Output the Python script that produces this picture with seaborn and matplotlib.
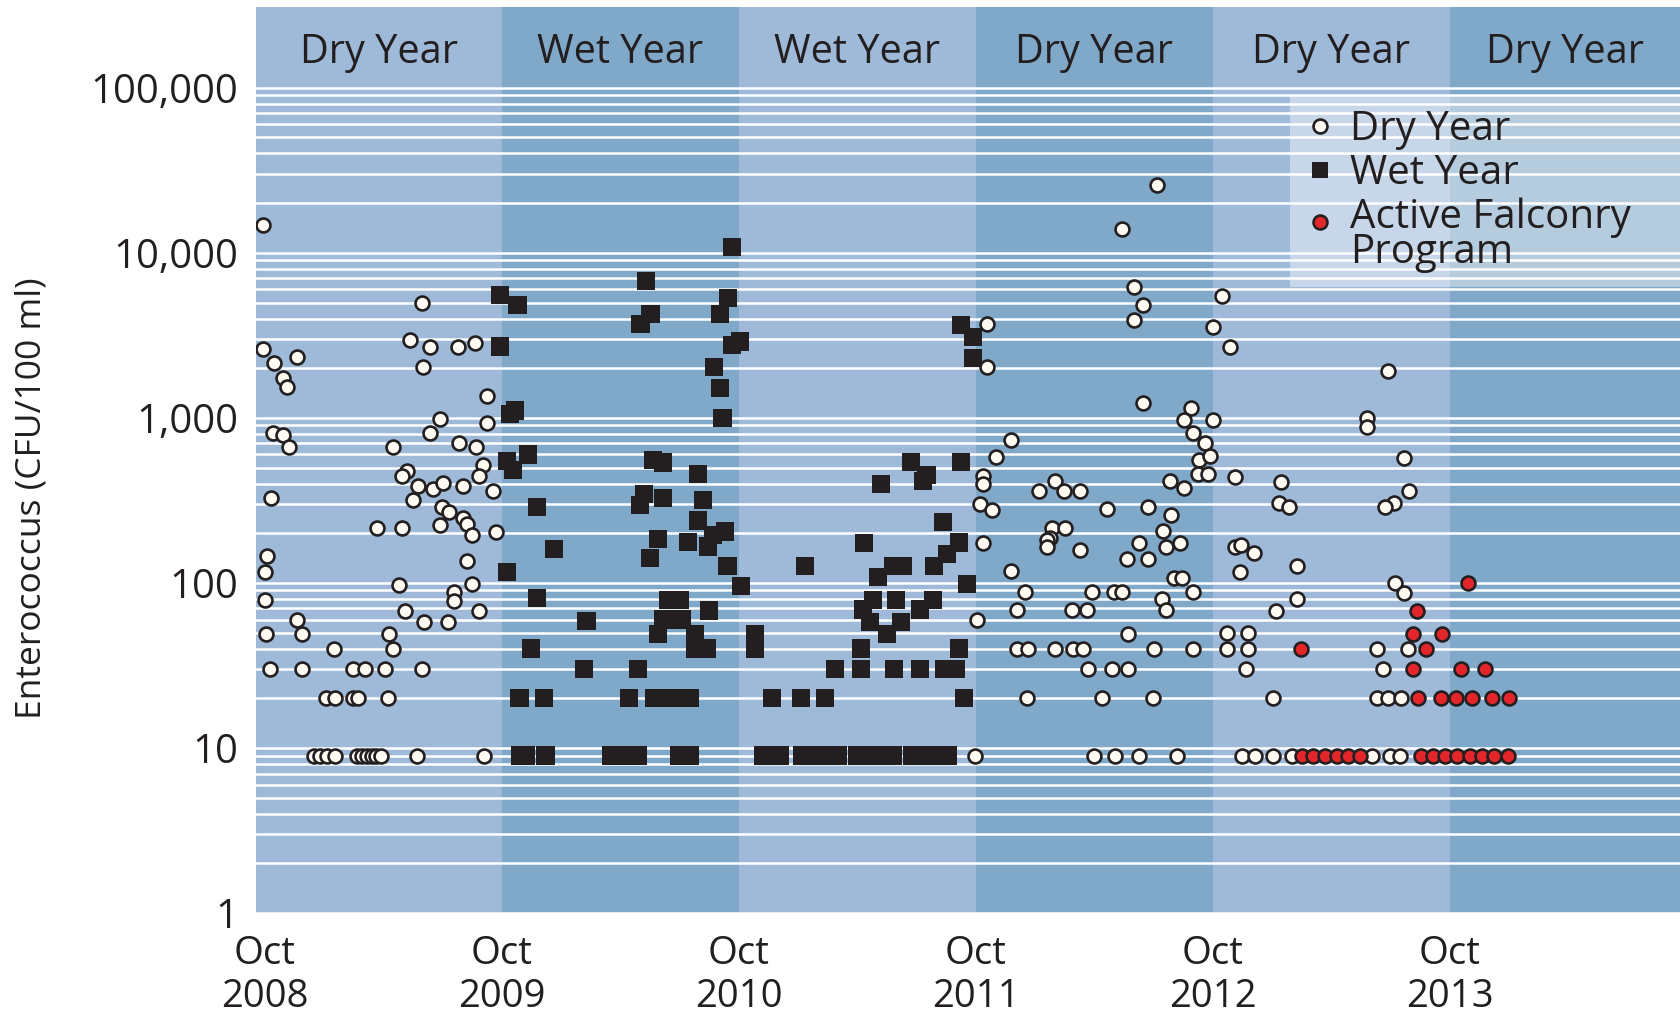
import matplotlib
matplotlib.use("Agg")
import numpy as np
import pandas as pd
import matplotlib.pyplot as plt
from matplotlib.lines import Line2D
from matplotlib.legend_handler import HandlerLine2D
from matplotlib.ticker import FixedLocator, FixedFormatter, NullFormatter
import seaborn as sns

# ---------------------------------------------------------------------------
# Enterococcus samples (CFU/100 ml), sampling dates as decimal years
# ---------------------------------------------------------------------------

# Dry-year samples (Oct 2008 - Sep 2009, Oct 2011 - Sep 2013)
dry_dates = [
    # 2008-09
    2008.742, 2009.413, 2008.742, 2008.888, 2008.791, 2008.829, 2008.843,
    2009.363, 2009.448, 2009.417, 2009.567, 2009.639, 2009.689, 2009.490,
    2009.689, 2009.448, 2008.787, 2008.829, 2008.854, 2009.293, 2009.571,
    2009.642, 2009.672, 2009.656, 2009.352, 2009.328, 2009.396, 2009.462,
    2009.501, 2009.588, 2009.712, 2008.776, 2009.377, 2009.497, 2009.529,
    2009.588, 2009.605, 2009.624, 2009.490, 2009.223, 2009.328, 2009.726,
    2008.759, 2008.752, 2009.602, 2009.318, 2009.624, 2008.752, 2009.549,
    2009.549, 2009.342, 2009.656, 2008.885, 2009.422, 2009.525, 2008.756,
    2008.906, 2009.276, 2009.043, 2009.290,
    2008.773, 2008.906, 2009.124, 2009.173, 2009.258, 2009.413,
    2009.009, 2009.047, 2009.124, 2009.145, 2009.272,
    2008.958, 2008.984, 2009.014, 2009.047, 2009.138, 2009.160, 2009.181,
    2009.202, 2009.220, 2009.240, 2009.394, 2009.677,
    # 2011-12
    2012.513, 2012.367, 2012.418, 2012.456, 2012.418, 2011.796, 2011.796,
    2012.456, 2012.657, 2012.629, 2012.667, 2012.716, 2011.898, 2011.834,
    2012.691, 2012.737, 2011.781, 2011.781, 2012.688, 2012.730, 2012.569,
    2012.629, 2012.084, 2012.017, 2012.123, 2012.189, 2011.767, 2011.817,
    2012.302, 2012.475, 2012.573, 2012.540, 2012.070, 2012.126, 2012.063,
    2012.049, 2012.049, 2011.781, 2012.189, 2012.438, 2012.550, 2012.611,
    2012.386, 2012.475, 2011.898, 2012.587, 2012.620, 2011.957, 2012.238,
    2012.334, 2012.365, 2012.667, 2012.534, 2011.922, 2012.154, 2012.217,
    2012.550, 2011.753, 2012.393,
    2011.922, 2011.971, 2012.084, 2012.161, 2012.203, 2012.502, 2012.667,
    2012.224, 2012.323, 2012.393,
    2011.964, 2012.283, 2012.498,
    2011.746, 2012.249, 2012.337, 2012.439, 2012.597,
    # 2012-13
    2012.787, 2012.751, 2012.822, 2013.489, 2012.751, 2013.401, 2013.401,
    2012.843, 2013.036, 2013.557, 2013.028, 2013.071, 2013.577, 2013.515,
    2013.475, 2012.843, 2012.868, 2012.924, 2012.864, 2013.104, 2013.520,
    2013.557, 2013.104, 2013.016,
    2012.808, 2012.899,
    2012.808, 2012.899, 2013.443, 2013.574,
    2012.888, 2013.468,
    2013.004, 2013.440, 2013.487, 2013.543,
    2012.874, 2012.927, 2013.004, 2013.085, 2013.421, 2013.497, 2013.537,
]
dry_cfu = [
    # 2008-09
    14700, 5000, 2600, 2330, 2140, 1740, 1540,
    2970, 2690, 2030, 2690, 2850, 1360, 985,
    930, 810, 810, 790, 665, 665, 700,
    665, 520, 447, 475, 447, 389, 373,
    403, 389, 362, 328, 316, 288, 269,
    249, 226, 194, 225, 215, 215, 204,
    146, 117, 136, 97, 98, 79, 88,
    78, 68, 68, 60, 58, 58, 49,
    49, 49, 40, 40,
    30, 30, 30, 30, 30, 30,
    20, 20, 20, 20, 20,
    9, 9, 9, 9, 9, 9, 9,
    9, 9, 9, 9, 9,
    # 2011-12
    25800, 13900, 6190, 4800, 3920, 3700, 2020,
    1230, 1140, 973, 813, 708, 735, 576,
    552, 590, 442, 397, 455, 455, 414,
    375, 414, 361, 361, 361, 300, 277,
    279, 288, 259, 207, 216, 214, 188,
    181, 165, 175, 159, 175, 165, 175,
    139, 139, 118, 107, 107, 88, 88,
    88, 88, 88, 80, 69, 69, 69,
    69, 60, 49,
    40, 40, 40, 40, 40, 40, 40,
    30, 30, 30,
    20, 20, 20,
    9, 9, 9, 9, 9,
    # 2012-13
    5480, 3540, 2670, 1930, 971, 995, 877,
    436, 410, 569, 306, 287, 361, 306,
    287, 164, 170, 152, 117, 127, 100,
    87, 80, 68,
    50, 50,
    40, 40, 40, 40,
    30, 30,
    20, 20, 20, 20,
    9, 9, 9, 9, 9, 9, 9,
]

# Wet-year samples (Oct 2009 - Sep 2011)
wet_dates = [
    # 2009-10
    2010.723, 2010.359, 2009.743, 2009.817, 2010.706, 2010.378, 2010.336,
    2010.671, 2009.743, 2010.721, 2010.755, 2010.647, 2010.671, 2010.682,
    2009.806, 2009.785, 2009.862, 2009.771, 2009.799, 2010.389, 2010.432,
    2010.577, 2010.351, 2010.333, 2010.432, 2010.600, 2009.898, 2010.577,
    2010.692, 2010.642, 2010.411, 2010.535, 2010.621, 2009.972, 2010.376,
    2009.771, 2010.703, 2010.759, 2009.898, 2010.453, 2010.502, 2010.624,
    2010.432, 2010.509, 2010.108, 2010.411, 2010.565, 2010.565, 2010.615,
    2009.874, 2010.098, 2010.324,
    2009.825, 2009.930, 2010.288, 2010.392, 2010.468, 2010.544,
    2009.829, 2009.852, 2009.935, 2010.211, 2010.267, 2010.323, 2010.498,
    2010.544,
    # 2010-11
    2011.476, 2011.687, 2011.542, 2011.526, 2011.350, 2011.612, 2011.279,
    2011.680, 2011.627, 2011.029, 2011.402, 2011.444, 2011.573, 2011.336,
    2011.714, 2011.317, 2011.412, 2011.568, 2011.275, 2011.514, 2011.303,
    2011.433, 2011.374, 2010.818, 2010.818, 2011.265, 2011.680,
    2011.686, 2011.737, 2011.737,
    2011.156, 2011.265, 2011.405, 2011.514, 2011.615, 2011.666,
    2010.889, 2011.012, 2011.114, 2011.701,
    2010.852, 2010.924, 2011.017, 2011.092, 2011.168, 2011.249, 2011.324,
    2011.400, 2011.481, 2011.556, 2011.632,
]
wet_cfu = [
    # 2009-10
    10800, 6760, 5560, 4810, 5300, 4250, 3710,
    4250, 2710, 2750, 2900, 2040, 1520, 1000,
    1110, 1060, 600, 545, 481, 558, 537,
    458, 347, 295, 326, 318, 288, 239,
    205, 195, 185, 177, 166, 160, 142,
    116, 127, 96, 81, 79, 79, 68,
    60, 60, 59, 49, 49, 40, 40,
    40, 30, 30,
    20, 20, 20, 20, 20, 20,
    9, 9, 9, 9, 9, 9, 9,
    9,
    # 2010-11
    538, 538, 451, 415, 398, 235, 175,
    176, 150, 127, 127, 127, 127, 109,
    98, 79, 79, 79, 69, 69, 58,
    58, 49, 49, 40, 40, 40,
    3660, 3100, 2300,
    30, 30, 30, 30, 30, 30,
    20, 20, 20, 20,
    9, 9, 9, 9, 9, 9, 9,
    9, 9, 9, 9,
]

# Samples taken while the falconry program was active (2013)
falconry_dates = [
    2013.827, 2013.612, 2013.592, 2013.717, 2013.121, 2013.647,
    2013.592, 2013.796, 2013.897,
    2013.613, 2013.712, 2013.774, 2013.841, 2013.925, 2013.998,
    2013.124, 2013.173, 2013.222, 2013.272, 2013.321, 2013.370,
    2013.627, 2013.679, 2013.728, 2013.778, 2013.834, 2013.883,
    2013.936, 2013.996,
]
falconry_cfu = [
    100, 68, 49, 49, 40, 40,
    30, 30, 30,
    20, 20, 20, 20, 20, 20,
    9, 9, 9, 9, 9, 9,
    9, 9, 9, 9, 9, 9,
    9, 9,
]

# Water years (starting each October) and their classification
season_starts = [2008.75, 2009.75, 2010.75, 2011.75, 2012.75, 2013.75]
season_labels = ["Dry Year", "Wet Year", "Wet Year", "Dry Year", "Dry Year", "Dry Year"]

x_ticks = [2008.75, 2009.75, 2010.75, 2011.75, 2012.75, 2013.75]
x_tick_labels = ["Oct\n2008", "Oct\n2009", "Oct\n2010", "Oct\n2011", "Oct\n2012", "Oct\n2013"]
y_ticks = [1, 10, 100, 1000, 10000, 100000]
y_tick_labels = ["1", "10", "100", "1,000", "10,000", "100,000"]

# ---------------------------------------------------------------------------
sns.set_theme(style="white")
plt.rcParams["font.family"] = ["Open Sans", "DejaVu Sans"]

INK = "#231f20"
PAPER = "#fffaf2"
RED = "#e3262a"
BAND_COLORS = ["#9fbad8", "#80a8c9"]
FS_BAND = 28.5
FS_YTICK = 29
FS_XTICK = 27.5
FS_LEG = 29


class ShiftedMarkerHandler(HandlerLine2D):
    """Raise the legend marker so it sits beside the first line of a two-line label."""

    def __init__(self, shift_em, **kw):
        super().__init__(**kw)
        self.shift_em = shift_em

    def create_artists(self, legend, orig_handle, xdescent, ydescent, width,
                       height, fontsize, trans):
        artists = super().create_artists(legend, orig_handle, xdescent, ydescent,
                                         width, height, fontsize, trans)
        for a in artists:
            a.set_ydata(np.asarray(a.get_ydata()) + self.shift_em * fontsize)
        return artists


fig = plt.figure(figsize=(16.8, 10.18), dpi=100, facecolor="white")
ax = fig.add_axes([256 / 1680, 1 - 913 / 1018, 1424 / 1680, 905.6 / 1018])

x_lo, x_hi = 2008.714, 2014.72
ax.set_xlim(x_lo, x_hi)
ax.set_yscale("log")
ax.set_ylim(1, 3.07e5)

# alternating water-year bands with their classification on top
for i, start in enumerate(season_starts):
    lo = start if i > 0 else x_lo - 1
    hi = start + 1 if i < len(season_starts) - 1 else x_hi + 1
    ax.axvspan(lo, hi, color=BAND_COLORS[i % 2], lw=0, zorder=0)
    centre = (max(lo, x_lo) + min(hi, x_hi)) / 2
    ax.text(centre, 0.9385, season_labels[i], transform=ax.get_xaxis_transform(),
            ha="center", va="baseline", fontsize=FS_BAND, color=INK)

# white rules at every decade and sub-decade step
minor_ticks = [k * 10 ** e for e in range(5) for k in range(2, 10)]
ax.yaxis.set_major_locator(FixedLocator(y_ticks))
ax.yaxis.set_major_formatter(FixedFormatter(y_tick_labels))
ax.yaxis.set_minor_locator(FixedLocator(minor_ticks))
ax.yaxis.set_minor_formatter(NullFormatter())
ax.set_axisbelow(True)
ax.grid(which="both", axis="y", color="white", lw=1.8)
ax.grid(which="both", axis="x", visible=False)

dry = pd.DataFrame({"date": dry_dates, "cfu": dry_cfu})
wet = pd.DataFrame({"date": wet_dates, "cfu": wet_cfu})
falconry = pd.DataFrame({"date": falconry_dates, "cfu": falconry_cfu})

sns.scatterplot(data=dry, x="date", y="cfu", ax=ax, marker="o", s=100,
                color=PAPER, edgecolor=INK, linewidth=1.9, zorder=3, legend=False)
sns.scatterplot(data=wet, x="date", y="cfu", ax=ax, marker="s", s=172,
                color=INK, edgecolor="none", linewidth=0, zorder=3, legend=False)
sns.scatterplot(data=falconry, x="date", y="cfu", ax=ax, marker="o", s=100,
                color=RED, edgecolor=INK, linewidth=1.9, zorder=4, legend=False)

ax.set_xticks(x_ticks, x_tick_labels)
ax.tick_params(axis="both", which="both", length=0, colors=INK)
ax.tick_params(axis="x", pad=16, labelsize=FS_XTICK)
ax.tick_params(axis="y", pad=13, labelsize=FS_YTICK)
for lbl in ax.get_xticklabels():
    lbl.set_linespacing(1.17)
for s in ax.spines.values():
    s.set_visible(False)

ax.set_xlabel("")
ax.set_ylabel("Enterococcus (CFU/100 ml)", fontsize=25.5, color=INK)
ax.yaxis.set_label_coords(-0.158, 0.458)
ax.yaxis.label.set_va("center")

handles = [
    Line2D([], [], ls="none", marker="o", markersize=10, mfc=PAPER, mec=INK, mew=1.9),
    Line2D([], [], ls="none", marker="s", markersize=11.5, mfc=INK, mec=INK, mew=0),
    Line2D([], [], ls="none", marker="o", markersize=10, mfc=RED, mec=INK, mew=1.9),
]
labels = ["Dry Year", "Wet Year", "Active Falconry\nProgram"]
leg = ax.legend(handles, labels, loc="upper left",
                bbox_to_anchor=(0.726, 0.699, 0.274, 0.204), mode="expand",
                borderaxespad=0, fontsize=FS_LEG, frameon=True, fancybox=False,
                framealpha=0.42, facecolor="white", edgecolor="none",
                borderpad=0.36, handlelength=0.8, handletextpad=0.33,
                labelspacing=0.08,
                handler_map={handles[2]: ShiftedMarkerHandler(0.36)})
for t in leg.get_texts():
    t.set_color(INK)
leg.get_texts()[2].set_linespacing(0.82)

fig.savefig("out.png", dpi=100, facecolor="white")
